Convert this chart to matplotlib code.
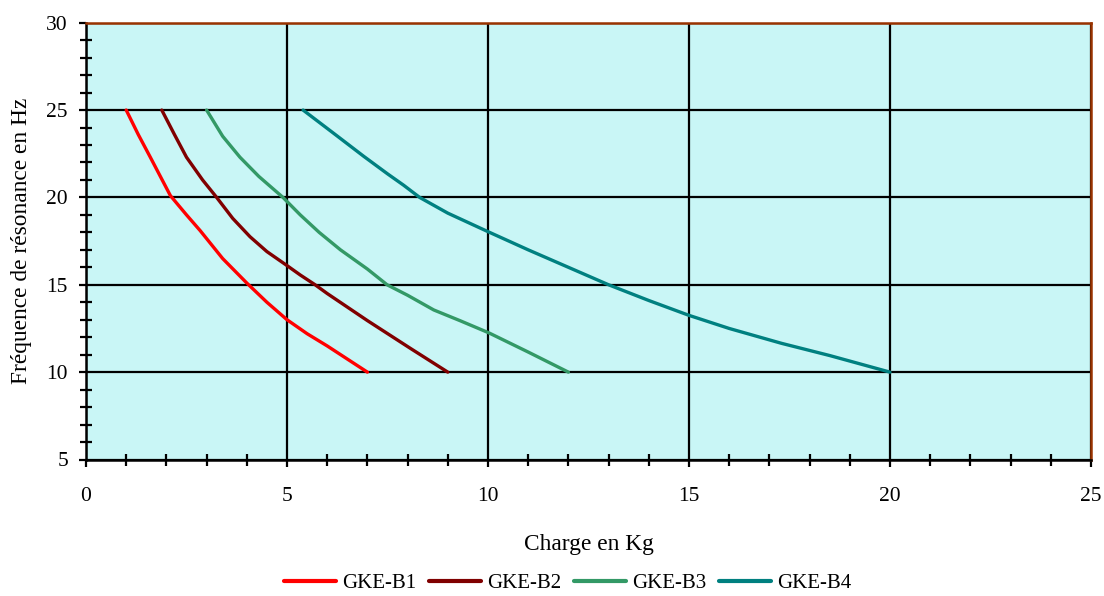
import matplotlib
matplotlib.use("Agg")
import matplotlib.pyplot as plt
from matplotlib.ticker import MultipleLocator

# Data
b1_x = [1.0, 1.3, 1.6, 2.1, 2.5, 2.84, 3.4, 4.0, 4.5, 5.0, 5.5, 6.0, 6.5, 7.0]
b1_y = [25.0, 23.6, 22.3, 20.1, 19.0, 18.1, 16.5, 15.1, 14.0, 13.0, 12.2, 11.5, 10.75, 10.0]

b2_x = [1.885, 2.2, 2.5, 2.9, 3.25, 3.65, 4.08, 4.5, 5.0, 5.33, 5.7, 6.0, 7.0, 8.07, 9.0]
b2_y = [25.0, 23.6, 22.3, 21.0, 20.0, 18.8, 17.75, 16.9, 16.1, 15.56, 15.0, 14.5, 12.95, 11.36, 10.0]

b3_x = [3.0, 3.4, 3.83, 4.3, 4.9, 5.33, 5.8, 6.33, 7.0, 7.49, 8.0, 8.65, 9.3, 10.02, 11.0, 12.0]
b3_y = [25.0, 23.5, 22.3, 21.2, 20.0, 19.0, 18.0, 17.0, 15.9, 15.0, 14.4, 13.56, 12.95, 12.25, 11.15, 10.0]

b4_x = [5.4, 6.2, 6.91, 7.5, 7.9, 8.3, 9.0, 10.0, 11.0, 12.0, 13.0, 14.0, 15.0, 16.0, 17.3, 18.5, 20.0]
b4_y = [25.0, 23.6, 22.35, 21.35, 20.7, 20.0, 19.1, 18.04, 17.0, 16.0, 15.0, 14.1, 13.25, 12.5, 11.65, 10.95, 10.0]

series_names = ["GKE-B1", "GKE-B2", "GKE-B3", "GKE-B4"]
series_colors = ["#FF0000", "#800000", "#339966", "#008080"]

x_label = "Charge en Kg"
y_label = "Fréquence de résonance en Hz"

plt.rcParams['font.family'] = ['Liberation Serif', 'DejaVu Serif']

fig = plt.figure(figsize=(11.04, 5.96), dpi=100)
ax = fig.add_axes([86/1104, 1-459.5/596, (1091-86)/1104, (459.5-22.7)/596])
ax.set_facecolor("#C9F6F6")

for xs, ys, name, col in zip([b1_x, b2_x, b3_x, b4_x], [b1_y, b2_y, b3_y, b4_y],
                             series_names, series_colors):
    ax.plot(xs, ys, color=col, lw=2.4, label=name, solid_capstyle='round',
            solid_joinstyle='round', zorder=3)

ax.set_xlim(0, 25)
ax.set_ylim(5, 30)
ax.xaxis.set_major_locator(MultipleLocator(5))
ax.yaxis.set_major_locator(MultipleLocator(5))
ax.xaxis.set_minor_locator(MultipleLocator(1))
ax.yaxis.set_minor_locator(MultipleLocator(1))
ax.grid(True, which='major', color='black', lw=1.6, zorder=1)
ax.set_axisbelow(True)

ax.tick_params(which='major', direction='out', length=5, width=1.6, color='black')
ax.tick_params(which='minor', direction='inout', length=9, width=1.6, color='black')
ax.tick_params(axis='x', which='major', pad=15, labelsize=15.5)
ax.tick_params(axis='y', which='major', pad=8, labelsize=15.5)

for s in ['left', 'bottom']:
    ax.spines[s].set_color('black')
    ax.spines[s].set_linewidth(1.8)
for s in ['top', 'right']:
    ax.spines[s].set_color('#993300')
    ax.spines[s].set_linewidth(1.8)

ax.set_xlabel(x_label, fontsize=16.8, labelpad=20)
ax.set_ylabel(y_label, fontsize=16.8, labelpad=10)

leg = fig.legend(loc='center', bbox_to_anchor=(568/1104, 1-583/596), ncol=4,
                 frameon=False, fontsize=15, handlelength=2.5, handletextpad=0.3,
                 columnspacing=0.6)
for line in leg.get_lines():
    line.set_linewidth(3)

fig.savefig("out.png", dpi=100)
